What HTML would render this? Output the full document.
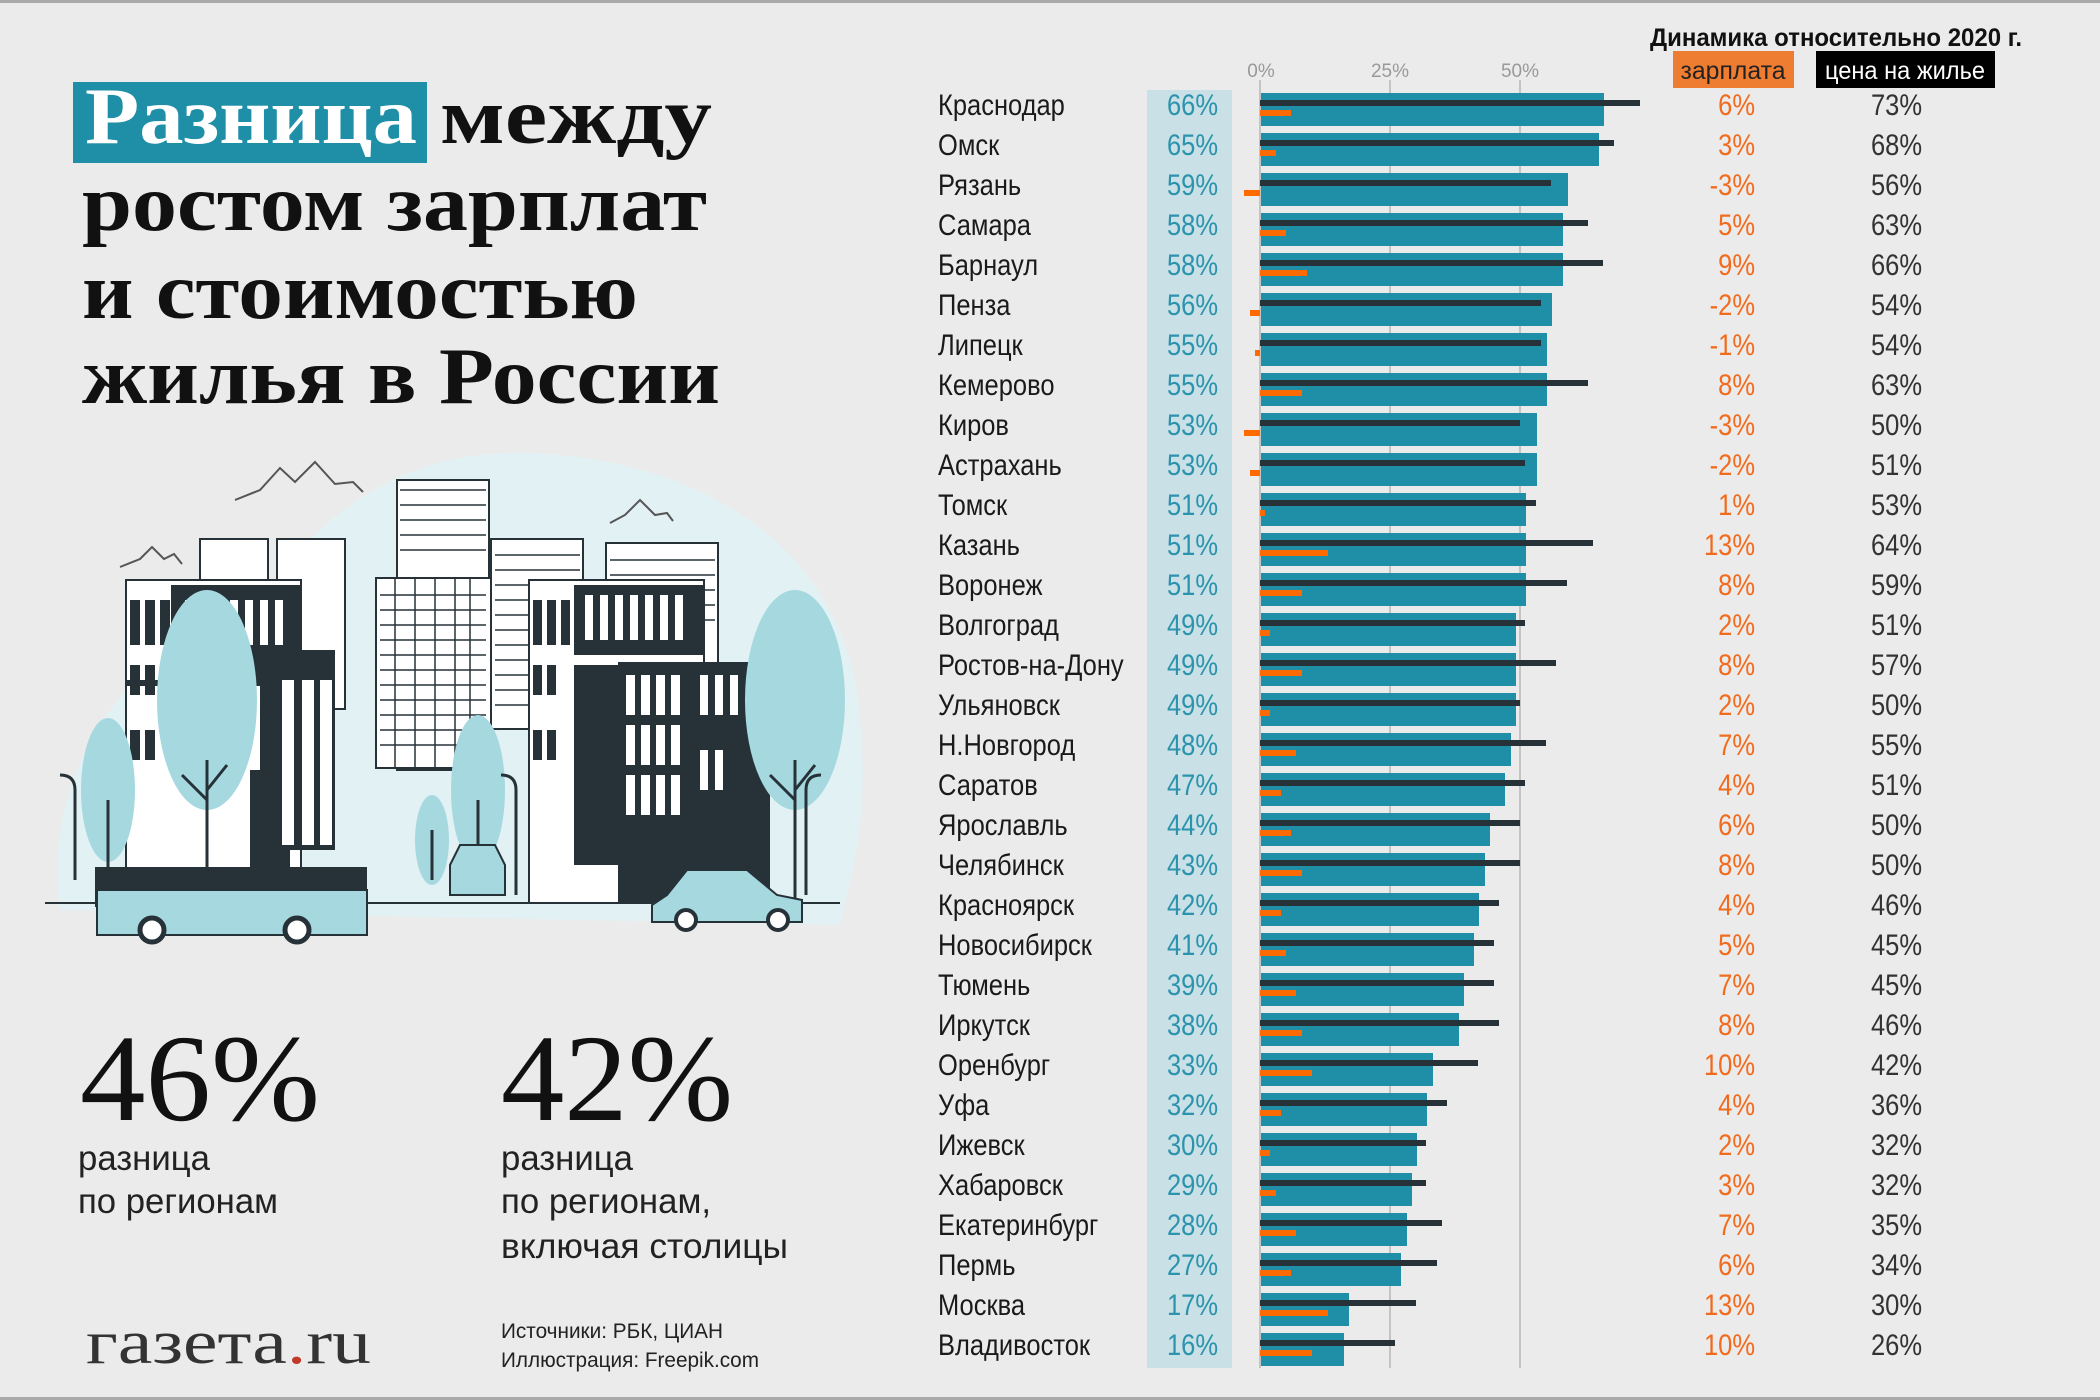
<!DOCTYPE html>
<html><head><meta charset="utf-8"><style>
html,body{margin:0;padding:0;background:#ebebeb;}
svg{display:block}
.n{font-family:"Liberation Sans",sans-serif;font-size:30px;fill:#1a1a1a}
.p{font-family:"Liberation Sans",sans-serif;font-size:30px;fill:#2b93ad;text-anchor:end}
.o{font-family:"Liberation Sans",sans-serif;font-size:30px;fill:#f26b1d;text-anchor:end}
.b{font-family:"Liberation Sans",sans-serif;font-size:30px;fill:#333;text-anchor:end}
.bar{fill:#1f8fa8}.dk{fill:#263238}.or{fill:#ff6a00}
.h{font-family:"Liberation Serif",serif;font-weight:bold;font-size:80px;fill:#111}
</style></head><body>
<svg width="2100" height="1400" viewBox="0 0 2100 1400" xmlns="http://www.w3.org/2000/svg">
<rect width="2100" height="1400" fill="#ebebeb"/>
<rect width="2100" height="3" fill="#aaa"/>
<rect y="1397" width="2100" height="3" fill="#aaa"/>

<rect x="73" y="82" width="354" height="81" fill="#1f8fa8"/>
<text class="h" x="85" y="143" style="fill:#fff" textLength="332" lengthAdjust="spacingAndGlyphs">Разница</text>
<text class="h" x="440" y="143" textLength="272" lengthAdjust="spacingAndGlyphs">между</text>
<text class="h" x="82" y="230" textLength="625" lengthAdjust="spacingAndGlyphs">ростом зарплат</text>
<text class="h" x="82" y="318" textLength="556" lengthAdjust="spacingAndGlyphs">и стоимостью</text>
<text class="h" x="82" y="403" textLength="638" lengthAdjust="spacingAndGlyphs">жилья в России</text>

<g>
<path d="M60 910 C40 760 140 640 260 600 C330 500 420 440 560 455 C720 470 850 560 860 720 C870 820 850 880 840 925 Z" fill="#e2f1f3"/>
<g fill="none" stroke="#555" stroke-width="2">
<path d="M120 567 l20 -8 l12 -12 l12 12 l10 -5 l8 10"/>
<path d="M235 500 l25 -10 l20 -22 l15 14 l20 -20 l20 22 l18 -2 l10 10"/>
<path d="M610 523 l15 -8 l15 -15 l15 15 l12 -2 l6 8"/>
</g>
<g fill="#fff" stroke="#263238" stroke-width="2">
<rect x="200" y="539" width="68" height="70"/><rect x="277" y="539" width="68" height="170"/>
<rect x="397" y="480" width="92" height="290"/><rect x="376" y="578" width="115" height="190"/>
<rect x="491" y="539" width="92" height="190"/><rect x="606" y="543" width="112" height="200"/>
</g>
<g fill="none" stroke="#263238" stroke-width="1.5">
<path d="M400 490 h86 M400 505 h86 M400 520 h86 M400 535 h86 M400 550 h86 M380 595 h106 M380 610 h106 M380 625 h106 M380 640 h106 M380 655 h106 M380 670 h106 M380 685 h106 M380 700 h106 M380 715 h106 M380 730 h106 M380 745 h106"/>
<path d="M395 578 v190 M415 578 v190 M435 578 v190 M455 578 v190 M470 578 v190"/>
<path d="M495 555 h85 M495 570 h85 M495 585 h85 M495 600 h85 M495 615 h85 M495 630 h85 M495 645 h85 M495 660 h85 M495 675 h85 M495 690 h85 M495 705 h85"/>
<path d="M610 560 h105 M610 575 h105 M610 590 h105 M610 605 h105 M610 620 h105"/>
</g>
<rect x="126" y="580" width="175" height="290" fill="#fff" stroke="#263238" stroke-width="2"/>
<rect x="171" y="585" width="130" height="95" fill="#263238"/>
<rect x="126" y="680" width="175" height="6" fill="#263238"/>
<rect x="250" y="770" width="40" height="100" fill="#263238"/>
<g fill="#263238"><rect x="130" y="600" width="10" height="45"/><rect x="145" y="600" width="10" height="45"/><rect x="160" y="600" width="10" height="45"/>
<rect x="130" y="665" width="10" height="30"/><rect x="145" y="665" width="10" height="30"/><rect x="130" y="730" width="10" height="30"/><rect x="145" y="730" width="10" height="30"/></g>
<g fill="#fff"><rect x="185" y="600" width="8" height="45"/><rect x="200" y="600" width="8" height="45"/><rect x="215" y="600" width="8" height="45"/><rect x="230" y="600" width="8" height="45"/><rect x="245" y="600" width="8" height="45"/><rect x="260" y="600" width="8" height="45"/><rect x="275" y="600" width="8" height="45"/></g>
<rect x="260" y="650" width="75" height="200" fill="#263238"/>
<g fill="#fff"><rect x="282" y="680" width="12" height="165"/><rect x="302" y="680" width="12" height="165"/><rect x="320" y="680" width="12" height="165"/></g>
<rect x="529" y="580" width="175" height="323" fill="#fff" stroke="#263238" stroke-width="2"/>
<rect x="574" y="585" width="130" height="70" fill="#263238"/>
<g fill="#fff"><rect x="585" y="595" width="8" height="45"/><rect x="600" y="595" width="8" height="45"/><rect x="615" y="595" width="8" height="45"/><rect x="630" y="595" width="8" height="45"/><rect x="645" y="595" width="8" height="45"/><rect x="660" y="595" width="8" height="45"/><rect x="675" y="595" width="8" height="45"/></g>
<g fill="#263238"><rect x="533" y="600" width="9" height="45"/><rect x="547" y="600" width="9" height="45"/><rect x="561" y="600" width="9" height="45"/><rect x="533" y="665" width="9" height="30"/><rect x="547" y="665" width="9" height="30"/><rect x="533" y="730" width="9" height="30"/><rect x="547" y="730" width="9" height="30"/><rect x="574" y="665" width="50" height="200"/></g>
<rect x="618" y="662" width="152" height="241" fill="#263238"/>
<g fill="#fff"><rect x="626" y="675" width="9" height="40"/><rect x="641" y="675" width="9" height="40"/><rect x="656" y="675" width="9" height="40"/><rect x="671" y="675" width="9" height="40"/><rect x="626" y="725" width="9" height="40"/><rect x="641" y="725" width="9" height="40"/><rect x="656" y="725" width="9" height="40"/><rect x="671" y="725" width="9" height="40"/><rect x="626" y="775" width="9" height="40"/><rect x="641" y="775" width="9" height="40"/><rect x="656" y="775" width="9" height="40"/><rect x="671" y="775" width="9" height="40"/><rect x="700" y="675" width="8" height="40"/><rect x="715" y="675" width="8" height="40"/><rect x="730" y="675" width="8" height="40"/><rect x="700" y="750" width="8" height="40"/><rect x="715" y="750" width="8" height="40"/></g>
<g fill="#a6d8e0">
<ellipse cx="207" cy="700" rx="50" ry="110"/>
<ellipse cx="795" cy="700" rx="50" ry="110"/>
<ellipse cx="108" cy="790" rx="27" ry="72"/>
<ellipse cx="478" cy="790" rx="27" ry="75"/>
<ellipse cx="432" cy="840" rx="17" ry="45"/>
</g>
<g stroke="#263238" stroke-width="3" fill="none">
<path d="M207 870 V760 M207 800 l-25 -25 M207 790 l20 -25 M795 903 V760 M795 800 l-25 -25 M795 790 l20 -25 M108 880 V800 M478 880 V800 M432 880 V830"/>
<path d="M75 880 V790 q0 -15 -15 -15 M516 895 V790 q0 -15 -15 -15 M806 895 V790 q0 -15 15 -15"/>
</g>
<line x1="45" y1="903" x2="840" y2="903" stroke="#263238" stroke-width="2"/>
<rect x="95" y="867" width="272" height="40" fill="#263238"/>
<rect x="97" y="890" width="270" height="45" fill="#a6d8e0" stroke="#263238" stroke-width="2"/>
<circle cx="152" cy="930" r="12" fill="#fff" stroke="#263238" stroke-width="5"/>
<circle cx="297" cy="930" r="12" fill="#fff" stroke="#263238" stroke-width="5"/>
<path d="M652 905 l15 -10 l20 -25 h60 l30 25 l25 5 v22 h-150 z" fill="#a6d8e0" stroke="#263238" stroke-width="2"/>
<circle cx="686" cy="920" r="10" fill="#fff" stroke="#263238" stroke-width="4"/>
<circle cx="778" cy="920" r="10" fill="#fff" stroke="#263238" stroke-width="4"/>
<path d="M450 865 l10 -20 h35 l10 20 v30 h-55 z" fill="#a6d8e0" stroke="#263238" stroke-width="2"/>
</g>

<text x="80" y="1120" style="font-family:'Liberation Serif',serif;font-size:124px;fill:#111" textLength="240" lengthAdjust="spacingAndGlyphs">46%</text>
<text x="501" y="1120" style="font-family:'Liberation Serif',serif;font-size:124px;fill:#111" textLength="232" lengthAdjust="spacingAndGlyphs">42%</text>
<g style="font-family:'Liberation Sans',sans-serif;font-size:35px;fill:#222">
<text x="78" y="1170" textLength="132" lengthAdjust="spacingAndGlyphs">разница</text><text x="78" y="1213" textLength="200" lengthAdjust="spacingAndGlyphs">по регионам</text>
<text x="501" y="1170" textLength="132" lengthAdjust="spacingAndGlyphs">разница</text><text x="501" y="1213" textLength="210" lengthAdjust="spacingAndGlyphs">по регионам,</text><text x="501" y="1258" textLength="287" lengthAdjust="spacingAndGlyphs">включая столицы</text>
</g>
<text x="86" y="1363" style="font-family:'Liberation Serif',serif;font-size:62px;fill:#333" textLength="285" lengthAdjust="spacingAndGlyphs">газета<tspan fill="#c0392b">.</tspan>ru</text>
<g style="font-family:'Liberation Sans',sans-serif;font-size:21px;fill:#222">
<text x="501" y="1338" textLength="222" lengthAdjust="spacingAndGlyphs">Источники: РБК, ЦИАН</text>
<text x="501" y="1367" textLength="258" lengthAdjust="spacingAndGlyphs">Иллюстрация: Freepik.com</text>
</g>

<text x="1650" y="46" style="font-family:'Liberation Sans',sans-serif;font-weight:bold;font-size:25px;fill:#111" textLength="372" lengthAdjust="spacingAndGlyphs">Динамика относительно 2020 г.</text>
<rect x="1673" y="51" width="121" height="37" fill="#ef7d31"/>
<rect x="1816" y="51" width="179" height="37" fill="#000"/>
<text x="1733" y="79" style="font-family:'Liberation Sans',sans-serif;font-size:25px;fill:#222;text-anchor:middle" textLength="105" lengthAdjust="spacingAndGlyphs">зарплата</text>
<text x="1905" y="79" style="font-family:'Liberation Sans',sans-serif;font-size:25px;fill:#fff;text-anchor:middle" textLength="160" lengthAdjust="spacingAndGlyphs">цена на жилье</text>

<rect x="1147" y="90" width="85" height="1278" fill="#c9e0e6"/>
<g stroke="#c4c4c4" stroke-width="2"><line x1="1260" y1="80" x2="1260" y2="1368"/><line x1="1390" y1="80" x2="1390" y2="1368"/><line x1="1520" y1="80" x2="1520" y2="1368"/></g>
<g style="font-family:'Liberation Sans',sans-serif;font-size:19px;fill:#999;text-anchor:middle">
<text x="1261" y="77">0%</text><text x="1390" y="77">25%</text><text x="1520" y="77">50%</text></g>

<g transform="translate(0,93)"><rect class="bar" x="1261" width="343" height="33"/><rect class="dk" x="1260" y="7" width="380" height="6"/><rect class="or" x="1260" y="17" width="31" height="6"/><text class="n" transform="translate(938,22) scale(0.85,1)">Краснодар</text><text class="p" transform="translate(1218,22) scale(0.85,1)">66%</text><text class="o" transform="translate(1755,22) scale(0.85,1)">6%</text><text class="b" transform="translate(1922,22) scale(0.85,1)">73%</text></g>
<g transform="translate(0,133)"><rect class="bar" x="1261" width="338" height="33"/><rect class="dk" x="1260" y="7" width="354" height="6"/><rect class="or" x="1260" y="17" width="16" height="6"/><text class="n" transform="translate(938,22) scale(0.85,1)">Омск</text><text class="p" transform="translate(1218,22) scale(0.85,1)">65%</text><text class="o" transform="translate(1755,22) scale(0.85,1)">3%</text><text class="b" transform="translate(1922,22) scale(0.85,1)">68%</text></g>
<g transform="translate(0,173)"><rect class="bar" x="1261" width="307" height="33"/><rect class="dk" x="1260" y="7" width="291" height="6"/><rect class="or" x="1244" y="17" width="16" height="6"/><text class="n" transform="translate(938,22) scale(0.85,1)">Рязань</text><text class="p" transform="translate(1218,22) scale(0.85,1)">59%</text><text class="o" transform="translate(1755,22) scale(0.85,1)">-3%</text><text class="b" transform="translate(1922,22) scale(0.85,1)">56%</text></g>
<g transform="translate(0,213)"><rect class="bar" x="1261" width="302" height="33"/><rect class="dk" x="1260" y="7" width="328" height="6"/><rect class="or" x="1260" y="17" width="26" height="6"/><text class="n" transform="translate(938,22) scale(0.85,1)">Самара</text><text class="p" transform="translate(1218,22) scale(0.85,1)">58%</text><text class="o" transform="translate(1755,22) scale(0.85,1)">5%</text><text class="b" transform="translate(1922,22) scale(0.85,1)">63%</text></g>
<g transform="translate(0,253)"><rect class="bar" x="1261" width="302" height="33"/><rect class="dk" x="1260" y="7" width="343" height="6"/><rect class="or" x="1260" y="17" width="47" height="6"/><text class="n" transform="translate(938,22) scale(0.85,1)">Барнаул</text><text class="p" transform="translate(1218,22) scale(0.85,1)">58%</text><text class="o" transform="translate(1755,22) scale(0.85,1)">9%</text><text class="b" transform="translate(1922,22) scale(0.85,1)">66%</text></g>
<g transform="translate(0,293)"><rect class="bar" x="1261" width="291" height="33"/><rect class="dk" x="1260" y="7" width="281" height="6"/><rect class="or" x="1250" y="17" width="10" height="6"/><text class="n" transform="translate(938,22) scale(0.85,1)">Пенза</text><text class="p" transform="translate(1218,22) scale(0.85,1)">56%</text><text class="o" transform="translate(1755,22) scale(0.85,1)">-2%</text><text class="b" transform="translate(1922,22) scale(0.85,1)">54%</text></g>
<g transform="translate(0,333)"><rect class="bar" x="1261" width="286" height="33"/><rect class="dk" x="1260" y="7" width="281" height="6"/><rect class="or" x="1255" y="17" width="5" height="6"/><text class="n" transform="translate(938,22) scale(0.85,1)">Липецк</text><text class="p" transform="translate(1218,22) scale(0.85,1)">55%</text><text class="o" transform="translate(1755,22) scale(0.85,1)">-1%</text><text class="b" transform="translate(1922,22) scale(0.85,1)">54%</text></g>
<g transform="translate(0,373)"><rect class="bar" x="1261" width="286" height="33"/><rect class="dk" x="1260" y="7" width="328" height="6"/><rect class="or" x="1260" y="17" width="42" height="6"/><text class="n" transform="translate(938,22) scale(0.85,1)">Кемерово</text><text class="p" transform="translate(1218,22) scale(0.85,1)">55%</text><text class="o" transform="translate(1755,22) scale(0.85,1)">8%</text><text class="b" transform="translate(1922,22) scale(0.85,1)">63%</text></g>
<g transform="translate(0,413)"><rect class="bar" x="1261" width="276" height="33"/><rect class="dk" x="1260" y="7" width="260" height="6"/><rect class="or" x="1244" y="17" width="16" height="6"/><text class="n" transform="translate(938,22) scale(0.85,1)">Киров</text><text class="p" transform="translate(1218,22) scale(0.85,1)">53%</text><text class="o" transform="translate(1755,22) scale(0.85,1)">-3%</text><text class="b" transform="translate(1922,22) scale(0.85,1)">50%</text></g>
<g transform="translate(0,453)"><rect class="bar" x="1261" width="276" height="33"/><rect class="dk" x="1260" y="7" width="265" height="6"/><rect class="or" x="1250" y="17" width="10" height="6"/><text class="n" transform="translate(938,22) scale(0.85,1)">Астрахань</text><text class="p" transform="translate(1218,22) scale(0.85,1)">53%</text><text class="o" transform="translate(1755,22) scale(0.85,1)">-2%</text><text class="b" transform="translate(1922,22) scale(0.85,1)">51%</text></g>
<g transform="translate(0,493)"><rect class="bar" x="1261" width="265" height="33"/><rect class="dk" x="1260" y="7" width="276" height="6"/><rect class="or" x="1260" y="17" width="5" height="6"/><text class="n" transform="translate(938,22) scale(0.85,1)">Томск</text><text class="p" transform="translate(1218,22) scale(0.85,1)">51%</text><text class="o" transform="translate(1755,22) scale(0.85,1)">1%</text><text class="b" transform="translate(1922,22) scale(0.85,1)">53%</text></g>
<g transform="translate(0,533)"><rect class="bar" x="1261" width="265" height="33"/><rect class="dk" x="1260" y="7" width="333" height="6"/><rect class="or" x="1260" y="17" width="68" height="6"/><text class="n" transform="translate(938,22) scale(0.85,1)">Казань</text><text class="p" transform="translate(1218,22) scale(0.85,1)">51%</text><text class="o" transform="translate(1755,22) scale(0.85,1)">13%</text><text class="b" transform="translate(1922,22) scale(0.85,1)">64%</text></g>
<g transform="translate(0,573)"><rect class="bar" x="1261" width="265" height="33"/><rect class="dk" x="1260" y="7" width="307" height="6"/><rect class="or" x="1260" y="17" width="42" height="6"/><text class="n" transform="translate(938,22) scale(0.85,1)">Воронеж</text><text class="p" transform="translate(1218,22) scale(0.85,1)">51%</text><text class="o" transform="translate(1755,22) scale(0.85,1)">8%</text><text class="b" transform="translate(1922,22) scale(0.85,1)">59%</text></g>
<g transform="translate(0,613)"><rect class="bar" x="1261" width="255" height="33"/><rect class="dk" x="1260" y="7" width="265" height="6"/><rect class="or" x="1260" y="17" width="10" height="6"/><text class="n" transform="translate(938,22) scale(0.85,1)">Волгоград</text><text class="p" transform="translate(1218,22) scale(0.85,1)">49%</text><text class="o" transform="translate(1755,22) scale(0.85,1)">2%</text><text class="b" transform="translate(1922,22) scale(0.85,1)">51%</text></g>
<g transform="translate(0,653)"><rect class="bar" x="1261" width="255" height="33"/><rect class="dk" x="1260" y="7" width="296" height="6"/><rect class="or" x="1260" y="17" width="42" height="6"/><text class="n" transform="translate(938,22) scale(0.85,1)">Ростов-на-Дону</text><text class="p" transform="translate(1218,22) scale(0.85,1)">49%</text><text class="o" transform="translate(1755,22) scale(0.85,1)">8%</text><text class="b" transform="translate(1922,22) scale(0.85,1)">57%</text></g>
<g transform="translate(0,693)"><rect class="bar" x="1261" width="255" height="33"/><rect class="dk" x="1260" y="7" width="260" height="6"/><rect class="or" x="1260" y="17" width="10" height="6"/><text class="n" transform="translate(938,22) scale(0.85,1)">Ульяновск</text><text class="p" transform="translate(1218,22) scale(0.85,1)">49%</text><text class="o" transform="translate(1755,22) scale(0.85,1)">2%</text><text class="b" transform="translate(1922,22) scale(0.85,1)">50%</text></g>
<g transform="translate(0,733)"><rect class="bar" x="1261" width="250" height="33"/><rect class="dk" x="1260" y="7" width="286" height="6"/><rect class="or" x="1260" y="17" width="36" height="6"/><text class="n" transform="translate(938,22) scale(0.85,1)">Н.Новгород</text><text class="p" transform="translate(1218,22) scale(0.85,1)">48%</text><text class="o" transform="translate(1755,22) scale(0.85,1)">7%</text><text class="b" transform="translate(1922,22) scale(0.85,1)">55%</text></g>
<g transform="translate(0,773)"><rect class="bar" x="1261" width="244" height="33"/><rect class="dk" x="1260" y="7" width="265" height="6"/><rect class="or" x="1260" y="17" width="21" height="6"/><text class="n" transform="translate(938,22) scale(0.85,1)">Саратов</text><text class="p" transform="translate(1218,22) scale(0.85,1)">47%</text><text class="o" transform="translate(1755,22) scale(0.85,1)">4%</text><text class="b" transform="translate(1922,22) scale(0.85,1)">51%</text></g>
<g transform="translate(0,813)"><rect class="bar" x="1261" width="229" height="33"/><rect class="dk" x="1260" y="7" width="260" height="6"/><rect class="or" x="1260" y="17" width="31" height="6"/><text class="n" transform="translate(938,22) scale(0.85,1)">Ярославль</text><text class="p" transform="translate(1218,22) scale(0.85,1)">44%</text><text class="o" transform="translate(1755,22) scale(0.85,1)">6%</text><text class="b" transform="translate(1922,22) scale(0.85,1)">50%</text></g>
<g transform="translate(0,853)"><rect class="bar" x="1261" width="224" height="33"/><rect class="dk" x="1260" y="7" width="260" height="6"/><rect class="or" x="1260" y="17" width="42" height="6"/><text class="n" transform="translate(938,22) scale(0.85,1)">Челябинск</text><text class="p" transform="translate(1218,22) scale(0.85,1)">43%</text><text class="o" transform="translate(1755,22) scale(0.85,1)">8%</text><text class="b" transform="translate(1922,22) scale(0.85,1)">50%</text></g>
<g transform="translate(0,893)"><rect class="bar" x="1261" width="218" height="33"/><rect class="dk" x="1260" y="7" width="239" height="6"/><rect class="or" x="1260" y="17" width="21" height="6"/><text class="n" transform="translate(938,22) scale(0.85,1)">Красноярск</text><text class="p" transform="translate(1218,22) scale(0.85,1)">42%</text><text class="o" transform="translate(1755,22) scale(0.85,1)">4%</text><text class="b" transform="translate(1922,22) scale(0.85,1)">46%</text></g>
<g transform="translate(0,933)"><rect class="bar" x="1261" width="213" height="33"/><rect class="dk" x="1260" y="7" width="234" height="6"/><rect class="or" x="1260" y="17" width="26" height="6"/><text class="n" transform="translate(938,22) scale(0.85,1)">Новосибирск</text><text class="p" transform="translate(1218,22) scale(0.85,1)">41%</text><text class="o" transform="translate(1755,22) scale(0.85,1)">5%</text><text class="b" transform="translate(1922,22) scale(0.85,1)">45%</text></g>
<g transform="translate(0,973)"><rect class="bar" x="1261" width="203" height="33"/><rect class="dk" x="1260" y="7" width="234" height="6"/><rect class="or" x="1260" y="17" width="36" height="6"/><text class="n" transform="translate(938,22) scale(0.85,1)">Тюмень</text><text class="p" transform="translate(1218,22) scale(0.85,1)">39%</text><text class="o" transform="translate(1755,22) scale(0.85,1)">7%</text><text class="b" transform="translate(1922,22) scale(0.85,1)">45%</text></g>
<g transform="translate(0,1013)"><rect class="bar" x="1261" width="198" height="33"/><rect class="dk" x="1260" y="7" width="239" height="6"/><rect class="or" x="1260" y="17" width="42" height="6"/><text class="n" transform="translate(938,22) scale(0.85,1)">Иркутск</text><text class="p" transform="translate(1218,22) scale(0.85,1)">38%</text><text class="o" transform="translate(1755,22) scale(0.85,1)">8%</text><text class="b" transform="translate(1922,22) scale(0.85,1)">46%</text></g>
<g transform="translate(0,1053)"><rect class="bar" x="1261" width="172" height="33"/><rect class="dk" x="1260" y="7" width="218" height="6"/><rect class="or" x="1260" y="17" width="52" height="6"/><text class="n" transform="translate(938,22) scale(0.85,1)">Оренбург</text><text class="p" transform="translate(1218,22) scale(0.85,1)">33%</text><text class="o" transform="translate(1755,22) scale(0.85,1)">10%</text><text class="b" transform="translate(1922,22) scale(0.85,1)">42%</text></g>
<g transform="translate(0,1093)"><rect class="bar" x="1261" width="166" height="33"/><rect class="dk" x="1260" y="7" width="187" height="6"/><rect class="or" x="1260" y="17" width="21" height="6"/><text class="n" transform="translate(938,22) scale(0.85,1)">Уфа</text><text class="p" transform="translate(1218,22) scale(0.85,1)">32%</text><text class="o" transform="translate(1755,22) scale(0.85,1)">4%</text><text class="b" transform="translate(1922,22) scale(0.85,1)">36%</text></g>
<g transform="translate(0,1133)"><rect class="bar" x="1261" width="156" height="33"/><rect class="dk" x="1260" y="7" width="166" height="6"/><rect class="or" x="1260" y="17" width="10" height="6"/><text class="n" transform="translate(938,22) scale(0.85,1)">Ижевск</text><text class="p" transform="translate(1218,22) scale(0.85,1)">30%</text><text class="o" transform="translate(1755,22) scale(0.85,1)">2%</text><text class="b" transform="translate(1922,22) scale(0.85,1)">32%</text></g>
<g transform="translate(0,1173)"><rect class="bar" x="1261" width="151" height="33"/><rect class="dk" x="1260" y="7" width="166" height="6"/><rect class="or" x="1260" y="17" width="16" height="6"/><text class="n" transform="translate(938,22) scale(0.85,1)">Хабаровск</text><text class="p" transform="translate(1218,22) scale(0.85,1)">29%</text><text class="o" transform="translate(1755,22) scale(0.85,1)">3%</text><text class="b" transform="translate(1922,22) scale(0.85,1)">32%</text></g>
<g transform="translate(0,1213)"><rect class="bar" x="1261" width="146" height="33"/><rect class="dk" x="1260" y="7" width="182" height="6"/><rect class="or" x="1260" y="17" width="36" height="6"/><text class="n" transform="translate(938,22) scale(0.85,1)">Екатеринбург</text><text class="p" transform="translate(1218,22) scale(0.85,1)">28%</text><text class="o" transform="translate(1755,22) scale(0.85,1)">7%</text><text class="b" transform="translate(1922,22) scale(0.85,1)">35%</text></g>
<g transform="translate(0,1253)"><rect class="bar" x="1261" width="140" height="33"/><rect class="dk" x="1260" y="7" width="177" height="6"/><rect class="or" x="1260" y="17" width="31" height="6"/><text class="n" transform="translate(938,22) scale(0.85,1)">Пермь</text><text class="p" transform="translate(1218,22) scale(0.85,1)">27%</text><text class="o" transform="translate(1755,22) scale(0.85,1)">6%</text><text class="b" transform="translate(1922,22) scale(0.85,1)">34%</text></g>
<g transform="translate(0,1293)"><rect class="bar" x="1261" width="88" height="33"/><rect class="dk" x="1260" y="7" width="156" height="6"/><rect class="or" x="1260" y="17" width="68" height="6"/><text class="n" transform="translate(938,22) scale(0.85,1)">Москва</text><text class="p" transform="translate(1218,22) scale(0.85,1)">17%</text><text class="o" transform="translate(1755,22) scale(0.85,1)">13%</text><text class="b" transform="translate(1922,22) scale(0.85,1)">30%</text></g>
<g transform="translate(0,1333)"><rect class="bar" x="1261" width="83" height="33"/><rect class="dk" x="1260" y="7" width="135" height="6"/><rect class="or" x="1260" y="17" width="52" height="6"/><text class="n" transform="translate(938,22) scale(0.85,1)">Владивосток</text><text class="p" transform="translate(1218,22) scale(0.85,1)">16%</text><text class="o" transform="translate(1755,22) scale(0.85,1)">10%</text><text class="b" transform="translate(1922,22) scale(0.85,1)">26%</text></g>
</svg>
</body></html>
